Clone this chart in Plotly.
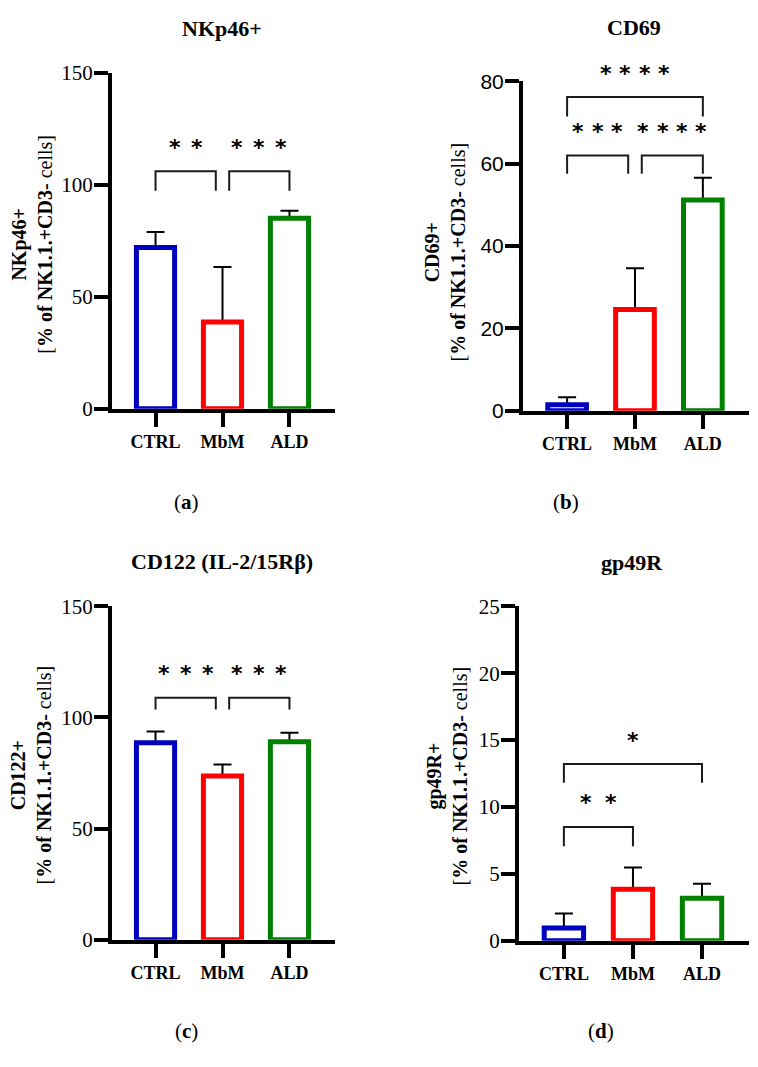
import plotly.graph_objects as go

W, H = 758, 1067

categories = ["CTRL", "MbM", "ALD"]
bar_colors = ["#0000C0", "#FF0000", "#008000"]

# panel (a) NKp46+
nkp46_mean = [72.0, 38.8, 85.0]
nkp46_err = [6.9, 24.5, 3.4]
# panel (b) CD69
cd69_mean = [1.5, 24.6, 51.2]
cd69_err = [1.8, 10.0, 5.4]
# panel (c) CD122
cd122_mean = [88.6, 73.6, 89.1]
cd122_err = [5.1, 5.2, 4.0]
# panel (d) gp49R
gp49r_mean = [0.94, 3.85, 3.17]
gp49r_err = [1.09, 1.62, 1.09]

yticks_a = [0, 50, 100, 150]
yticks_b = [0, 20, 40, 60, 80]
yticks_c = [0, 50, 100, 150]
yticks_d = [0, 5, 10, 15, 20, 25]

# significance brackets: (x0, x1, top, leg bottom, n stars)
sig_a = [(0, 0.9, 106, 97.3, 2), (1.1, 2, 106, 97.3, 3)]
sig_b = [(0, 2, 76.2, 71.5, 4), (0, 0.9, 62.0, 57.6, 3), (1.1, 2, 62.0, 57.6, 4)]
sig_c = [(0, 0.9, 108.9, 103.6, 3), (1.1, 2, 108.9, 103.6, 3)]
sig_d = [(0, 2, 13.2, 11.8, 1), (0, 1, 8.5, 7.05, 2)]

panels = [
    dict(title="NKp46+", ylab="NKp46+", mean=nkp46_mean, err=nkp46_err, ticks=yticks_a,
         ymax=150, sig=sig_a, px=(110, 335, 62, 408), tickfont="Liberation Serif",
         titlexy=(222, 17), ylabxy=(32, 238), tag="a", tagxy=(186, 501), spacing=0.33),
    dict(title="CD69", ylab="CD69+", mean=cd69_mean, err=cd69_err, ticks=yticks_b,
         ymax=80, sig=sig_b, px=(521, 749, 71, 410), tickfont="Liberation Sans",
         titlexy=(634, 16), ylabxy=(445, 246), tag="b", tagxy=(566, 501), spacing=0.285),
    dict(title="CD122 (IL-2/15Rβ)", ylab="CD122+", mean=cd122_mean, err=cd122_err, ticks=yticks_c,
         ymax=150, sig=sig_c, px=(110, 335, 608, 951), tickfont="Liberation Serif",
         titlexy=(222, 562), ylabxy=(31, 781), tag="c", tagxy=(186, 1042), spacing=0.33),
    dict(title="gp49R", ylab="gp49R+", mean=gp49r_mean, err=gp49r_err, ticks=yticks_d,
         ymax=25, sig=sig_d, px=(517, 749, 608, 952), tickfont="Liberation Serif",
         titlexy=(632, 563), ylabxy=(447, 782), tag="d", tagxy=(601, 1042), spacing=0.35),
]

XR = [-0.65, 2.68]
LW = 4
fig = go.Figure()
annotations = []
layout = dict(width=W, height=H, margin=dict(l=0, r=0, t=0, b=0),
              paper_bgcolor="white", plot_bgcolor="white", showlegend=False,
              barmode="overlay")

xpos = [0, 1, 2]
for i, p in enumerate(panels):
    k = "" if i == 0 else str(i + 1)
    xa, ya = "x" + k, "y" + k
    x0, x1, y0, y1 = p["px"]
    # axis lines are drawn just outside the plot area: shift domain by half a line width
    x0 += LW / 2
    y1 -= LW / 2
    layout["xaxis" + k] = dict(
        domain=[x0 / W, x1 / W], range=XR, anchor=ya, showline=True, linewidth=LW,
        linecolor="black", ticks="outside", ticklen=14, tickwidth=4, tickcolor="black",
        tickvals=xpos, ticktext=["<b>%s</b>" % c for c in categories],
        tickfont=dict(family="Liberation Serif", size=18, color="black"),
        showgrid=False, zeroline=False, fixedrange=True)
    layout["yaxis" + k] = dict(
        domain=[1 - y1 / H, 1 - y0 / H], range=[0, p["ymax"]], anchor=xa, showline=True,
        linewidth=LW, linecolor="black", ticks="outside", ticklen=14, tickwidth=4,
        tickcolor="black", tickvals=p["ticks"], ticklabelstandoff=-3,
        tickfont=dict(family=p["tickfont"], size=21, color="black"),
        showgrid=False, zeroline=False, fixedrange=True)
    # error bars (drawn underneath the visible bars)
    fig.add_trace(go.Bar(x=xpos, y=p["mean"], width=0.57, xaxis=xa, yaxis=ya,
                         marker=dict(color="rgba(0,0,0,0)", line=dict(width=0)),
                         error_y=dict(type="data", array=p["err"], arrayminus=[0, 0, 0],
                                      symmetric=False, color="black", thickness=2, width=9)))
    fig.add_trace(go.Bar(x=xpos, y=p["mean"], width=0.57, xaxis=xa, yaxis=ya,
                         marker=dict(color="white", line=dict(color=bar_colors, width=5))))
    for (bx0, bx1, top, leg, n) in p["sig"]:
        fig.add_trace(go.Scatter(x=[bx0, bx0, bx1, bx1], y=[leg, top, top, leg], mode="lines",
                                 line=dict(color="#1a1a1a", width=2), xaxis=xa, yaxis=ya,
                                 hoverinfo="skip"))
        c = (bx0 + bx1) / 2
        for j in range(n):
            annotations.append(dict(
                x=c + (j - (n - 1) / 2) * p["spacing"], y=top, xref=xa, yref=ya,
                text="<b>*</b>", showarrow=False, xanchor="center", yanchor="middle", yshift=24,
                font=dict(family="DejaVu Sans", size=22, color="black")))
    annotations.append(dict(x=p["titlexy"][0] / W, y=1 - p["titlexy"][1] / H, xref="paper",
                            yref="paper", text="<b>%s</b>" % p["title"], showarrow=False,
                            xanchor="center", yanchor="middle",
                            font=dict(family="Liberation Serif", size=22, color="black")))
    annotations.append(dict(x=p["ylabxy"][0] / W, y=1 - p["ylabxy"][1] / H, xref="paper",
                            yref="paper", textangle=-90, showarrow=False,
                            text="<b>%s</b><br>[<b>%% of NK1.1.+CD3-</b> cells]" % p["ylab"],
                            xanchor="center", yanchor="middle",
                            font=dict(family="Liberation Serif", size=20, color="black")))
    annotations.append(dict(x=p["tagxy"][0] / W, y=1 - p["tagxy"][1] / H, xref="paper",
                            yref="paper", text="(<b>%s</b>)" % p["tag"], showarrow=False,
                            xanchor="center", yanchor="middle",
                            font=dict(family="Liberation Serif", size=21, color="black")))

layout["annotations"] = annotations
fig.update_layout(**layout)
fig.write_html("out.html")
